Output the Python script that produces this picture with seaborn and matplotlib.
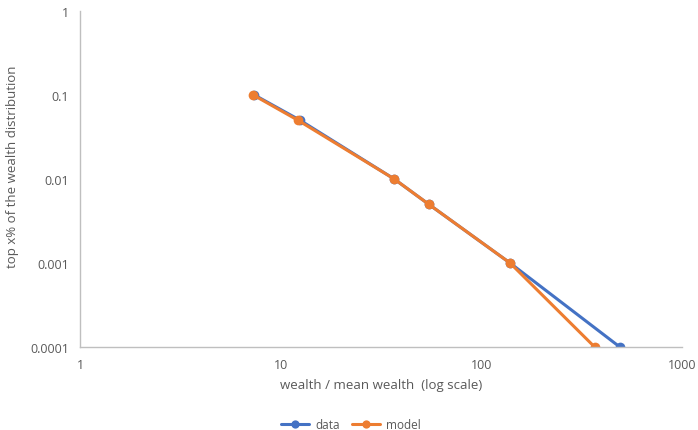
import matplotlib
matplotlib.use("Agg")
import matplotlib.pyplot as plt
import matplotlib.ticker as mticker
import seaborn as sns
import pandas as pd

data_x = [7.4, 12.5, 36.8, 54.7, 139, 490]
data_y = [0.1, 0.05, 0.01, 0.005, 0.001, 0.0001]
model_x = [7.3, 12.2, 36.8, 54.7, 139, 367]
model_y = [0.1, 0.05, 0.01, 0.005, 0.001, 0.0001]
series_names = ["data", "model"]
y_ticks = [1, 0.1, 0.01, 0.001, 0.0001]
y_labels = ["1", "0.1", "0.01", "0.001", "0.0001"]
x_ticks = [1, 10, 100, 1000]
x_labels = ["1", "10", "100", "1000"]

df = pd.DataFrame({
    "x": data_x + model_x,
    "y": data_y + model_y,
    "series": [series_names[0]] * len(data_x) + [series_names[1]] * len(model_x),
})

sns.set_theme(style="white")
plt.rcParams["font.family"] = ["Open Sans", "DejaVu Sans"]
gray = "#595959"

fig = plt.figure(figsize=(6.98, 4.31), dpi=100)
ax = fig.add_axes([80 / 698, (431 - 348) / 431, (682 - 80) / 698, (348 - 12) / 431])

sns.lineplot(data=df, x="x", y="y", hue="series", sort=False,
             palette=["#4472C4", "#ED7D31"], marker="o", markersize=7,
             markeredgewidth=0, linewidth=2.2, ax=ax, legend=True)

ax.set_xscale("log")
ax.set_yscale("log")
ax.set_xlim(1, 1000)
ax.set_ylim(0.0001, 1)
ax.set_xticks(x_ticks)
ax.set_xticklabels(x_labels)
ax.set_yticks(y_ticks)
ax.set_yticklabels(y_labels)
ax.xaxis.set_minor_locator(mticker.NullLocator())
ax.yaxis.set_minor_locator(mticker.NullLocator())
ax.tick_params(axis="both", colors=gray, labelsize=9, length=0, pad=8)
for s in ["top", "right"]:
    ax.spines[s].set_visible(False)
for s in ["left", "bottom"]:
    ax.spines[s].set_color("#BFBFBF")
    ax.spines[s].set_linewidth(1)
ax.grid(False)

ax.set_xlabel("wealth / mean wealth  (log scale)", color=gray, fontsize=9.5, labelpad=5)
ax.set_ylabel("top x% of the wealth distribution", color=gray, fontsize=9.5)
ax.yaxis.set_label_coords(-0.101, 0.54)

leg = ax.legend(loc="center", bbox_to_anchor=(0.45, -(426 - 348) / 336), ncol=2, frameon=False,
                fontsize=8.5, handlelength=2.4, columnspacing=1.0, labelcolor=gray,
                handletextpad=0.5, markerscale=0.85)

fig.savefig("out.png", dpi=100)
